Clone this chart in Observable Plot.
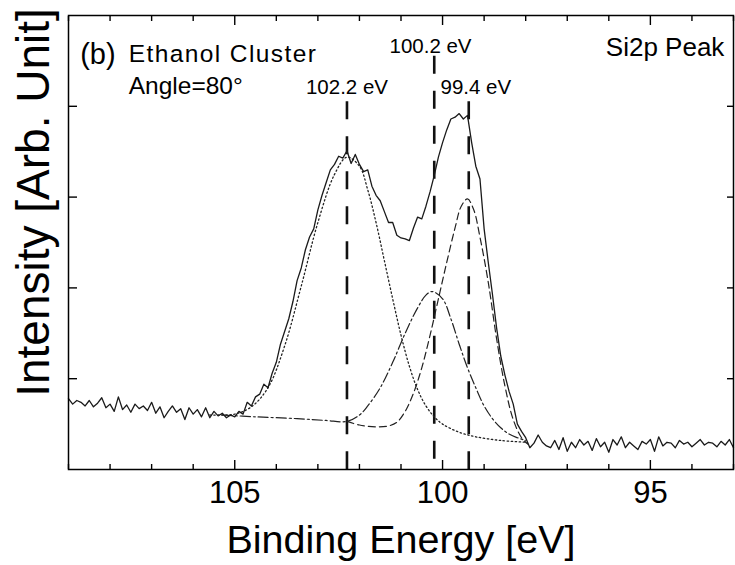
<!DOCTYPE html>
<html><head><meta charset="utf-8">
<script src="https://cdn.jsdelivr.net/npm/d3@7"></script>
<script src="https://cdn.jsdelivr.net/npm/@observablehq/plot@0.6"></script>
<style>html,body{margin:0;padding:0;background:#fff;}</style>
</head><body><div id="chart"></div>
<script>
// ---- measured spectrum (Binding energy in eV, intensity in arb. units) ----
const spectrumEnergy = [
  109.0,108.9,108.8,108.7,108.6,108.5,108.4,108.3,108.2,108.1,
  108.0,107.9,107.8,107.7,107.6,107.5,107.4,107.3,107.2,107.1,
  107.0,106.9,106.8,106.7,106.6,106.5,106.4,106.3,106.2,106.1,
  106.0,105.9,105.8,105.7,105.6,105.5,105.4,105.3,105.2,105.1,
  105.0,104.9,104.8,104.7,104.6,104.5,104.4,104.3,104.2,104.1,
  104.0,103.9,103.8,103.7,103.6,103.5,103.4,103.3,103.2,103.1,
  103.0,102.9,102.8,102.7,102.6,102.5,102.4,102.3,102.2,102.1,
  102.0,101.9,101.8,101.7,101.6,101.5,101.4,101.3,101.2,101.1,
  101.0,100.9,100.8,100.7,100.6,100.5,100.4,100.3,100.2,100.1,
  100.0,99.9,99.8,99.7,99.6,99.5,99.4,99.3,99.2,99.1,
  99.0,98.9,98.8,98.7,98.6,98.5,98.4,98.3,98.2,98.1,
  98.0,97.9,97.8,97.7,97.6,97.5,97.4,97.3,97.2,97.1,
  97.0,96.9,96.8,96.7,96.6,96.5,96.4,96.3,96.2,96.1,
  96.0,95.9,95.8,95.7,95.6,95.5,95.4,95.3,95.2,95.1,
  95.0,94.9,94.8,94.7,94.6,94.5,94.4,94.3,94.2,94.1,
  94.0,93.9,93.8,93.7,93.6,93.5,93.4,93.3,93.2,93.1,
  93.0
];
const spectrumIntensity = [
  0.78,0.72,0.76,0.74,0.70,0.76,0.69,0.73,0.79,0.68,
  0.72,0.64,0.80,0.66,0.71,0.63,0.72,0.67,0.70,0.65,
  0.74,0.62,0.69,0.57,0.64,0.70,0.63,0.67,0.55,0.68,
  0.61,0.66,0.58,0.68,0.57,0.64,0.59,0.62,0.57,0.60,
  0.58,0.64,0.61,0.74,0.70,0.80,0.83,0.94,0.90,1.06,
  1.18,1.38,1.52,1.66,1.85,2.08,2.22,2.42,2.56,2.65,
  2.86,3.02,3.16,3.30,3.36,3.45,3.43,3.51,3.37,3.47,
  3.36,3.28,3.30,3.12,3.02,2.96,2.84,2.72,2.72,2.58,
  2.55,2.54,2.52,2.66,2.78,2.76,2.90,3.06,3.24,3.44,
  3.60,3.74,3.86,3.88,3.92,3.86,3.90,3.60,3.34,3.20,
  2.65,2.28,1.93,1.56,1.25,1.04,0.86,0.72,0.50,0.42,
  0.35,0.24,0.29,0.38,0.30,0.26,0.24,0.32,0.22,0.35,
  0.20,0.30,0.24,0.33,0.27,0.31,0.21,0.34,0.25,0.30,
  0.19,0.33,0.27,0.36,0.24,0.30,0.26,0.22,0.31,0.28,
  0.33,0.20,0.36,0.26,0.30,0.29,0.24,0.32,0.28,0.30,
  0.25,0.29,0.33,0.27,0.30,0.29,0.25,0.31,0.27,0.33,
  0.24
];

// ---- fitted components (incl. background) ----
const fit102Energy = [105.6,105.4,105.0,104.6,104.2,103.8,103.4,103.0,102.6,102.3,102.0,101.8,101.6,101.4,101.2,101.0,100.8,100.6,100.4,100.2,100.0,99.6,99.2,98.6,98.0];
const fit102Value  = [0.60,0.60,0.61,0.69,0.90,1.36,2.02,2.72,3.25,3.44,3.34,3.08,2.72,2.30,1.88,1.48,1.14,0.88,0.70,0.58,0.50,0.41,0.36,0.32,0.30];

const fit100Energy = [105.3,104.5,103.5,102.8,102.3,102.0,101.8,101.5,101.2,100.9,100.6,100.4,100.25,100.0,99.8,99.6,99.4,99.2,99.0,98.8,98.6,98.4,98.2,98.0];
const fit100Value  = [0.60,0.58,0.56,0.54,0.53,0.60,0.70,0.90,1.18,1.50,1.78,1.92,1.96,1.88,1.66,1.38,1.12,0.90,0.70,0.56,0.46,0.39,0.35,0.32];

const fit99Energy = [102.3,102.0,101.6,101.3,101.1,100.9,100.7,100.5,100.3,100.1,99.9,99.7,99.55,99.4,99.25,99.1,98.9,98.7,98.5,98.3,98.1,97.95];
const fit99Value  = [0.53,0.49,0.47,0.48,0.52,0.64,0.84,1.12,1.48,1.88,2.28,2.66,2.90,2.98,2.86,2.56,2.06,1.44,0.92,0.55,0.35,0.28];

// ---- peak markers ----
const peakLabels = ["102.2 eV", "100.2 eV", "99.4 eV"];
const peakEnergy = [102.3, 100.2, 99.37];
const peakTop    = [4.05, 4.55, 4.05];
const peakLabelEnergy = [102.3, 100.29, 99.2];
const peakLabelLevel  = [4.14, 4.59, 4.14];

// ---- ticks ----
const xMajorTicks = [105, 100, 95];
const xMinorTicks = [109,108,107,106,104,103,102,101,99,98,97,96,94,93];
const yTicks = [1, 2, 3, 4];

// ---- annotation texts ----
const panelText = ["(b)", "Ethanol Cluster", "Angle=80°", "Si2p Peak"];
const xLabel = "Binding Energy [eV]";
const yLabel = "Intensity [Arb. Unit]";

const font = "'Liberation Sans', Arial, Helvetica, sans-serif";
const zip = (xs, ys) => xs.map((x, i) => ({x, y: ys[i]}));
const spectrum = zip(spectrumEnergy, spectrumIntensity);
const fit102 = zip(fit102Energy, fit102Value);
const fit100 = zip(fit100Energy, fit100Value);
const fit99 = zip(fit99Energy, fit99Value);
const peaks = peakLabels.map((t, i) => ({t, x: peakEnergy[i], top: peakTop[i], lx: peakLabelEnergy[i], ly: peakLabelLevel[i]}));
const blank = () => "";

const chart = Plot.plot({
  width: 735, height: 565,
  marginLeft: 68, marginRight: 2, marginTop: 15, marginBottom: 96,
  x: {domain: [109, 93], label: null},
  y: {domain: [0, 5], label: null},
  style: {fontFamily: font, color: "black", background: "white", overflow: "visible"},
  marks: [
    // ticks (inward)
    Plot.axisX(xMinorTicks, {anchor: "bottom", tickSize: -5, strokeWidth: 1.4, tickFormat: blank, label: null}),
    Plot.axisX(xMajorTicks, {anchor: "bottom", tickSize: -9, strokeWidth: 1.4, tickFormat: blank, label: null}),
    Plot.axisX(xMajorTicks, {anchor: "bottom", tickSize: 0, tickPadding: 11, fontSize: 31, label: null}),
    Plot.axisX(xMinorTicks, {anchor: "top", tickSize: -5, strokeWidth: 1.4, tickFormat: blank, label: null}),
    Plot.axisX(xMajorTicks, {anchor: "top", tickSize: -9, strokeWidth: 1.4, tickFormat: blank, label: null}),
    Plot.axisY(yTicks, {anchor: "left", tickSize: -9, strokeWidth: 1.4, tickFormat: blank, label: null}),
    Plot.axisY(yTicks, {anchor: "right", tickSize: -7, strokeWidth: 1.4, tickFormat: blank, label: null}),
    // peak position markers
    Plot.ruleX(peaks, {x: "x", y1: "top", y2: 0, stroke: "#111", strokeWidth: 2.6, strokeDasharray: "18,17"}),
    // fitted components
    Plot.line(fit102, {x: "x", y: "y", curve: "catmull-rom", stroke: "#222", strokeWidth: 1.3, strokeDasharray: "1.4,2.6"}),
    Plot.line(fit100, {x: "x", y: "y", curve: "catmull-rom", stroke: "#222", strokeWidth: 1.2, strokeDasharray: "10,3,2,3"}),
    Plot.line(fit99, {x: "x", y: "y", curve: "catmull-rom", stroke: "#222", strokeWidth: 1.2, strokeDasharray: "7,4"}),
    // measured spectrum
    Plot.line(spectrum, {x: "x", y: "y", stroke: "#1a1a1a", strokeWidth: 1.3}),
    Plot.frame({stroke: "black", strokeWidth: 1.5}),
    // annotations
    Plot.text(peaks, {x: "lx", y: "ly", text: "t", textAnchor: "middle", lineAnchor: "bottom", fontSize: 20.5, fill: "black"}),
    Plot.text([panelText[0]], {x: () => 108.72, y: () => 4.47, textAnchor: "start", lineAnchor: "bottom", fontSize: 29, fill: "black"}),
    Plot.text([panelText[1], panelText[2]], {x: () => 107.55, y: (d, i) => [4.49, 4.14][i], textAnchor: "start", lineAnchor: "bottom", fontSize: 24.5, fill: "black"}),
    Plot.text([panelText[3]], {x: () => 93.22, y: () => 4.55, textAnchor: "end", lineAnchor: "bottom", fontSize: 26, fill: "black"}),
    Plot.text([xLabel], {frameAnchor: "bottom", textAnchor: "middle", lineAnchor: "bottom", dy: 83, fontSize: 39.5, fill: "black"}),
    Plot.text([yLabel], {frameAnchor: "left", rotate: -90, textAnchor: "middle", lineAnchor: "bottom", dx: -20, dy: -40, fontSize: 46, fill: "black"})
  ]
});

d3.select(chart).selectAll("text")
  .filter(function () { return this.textContent === "Ethanol Cluster"; })
  .attr("letter-spacing", 1.4);

document.getElementById("chart").appendChild(chart);
</script></body></html>
